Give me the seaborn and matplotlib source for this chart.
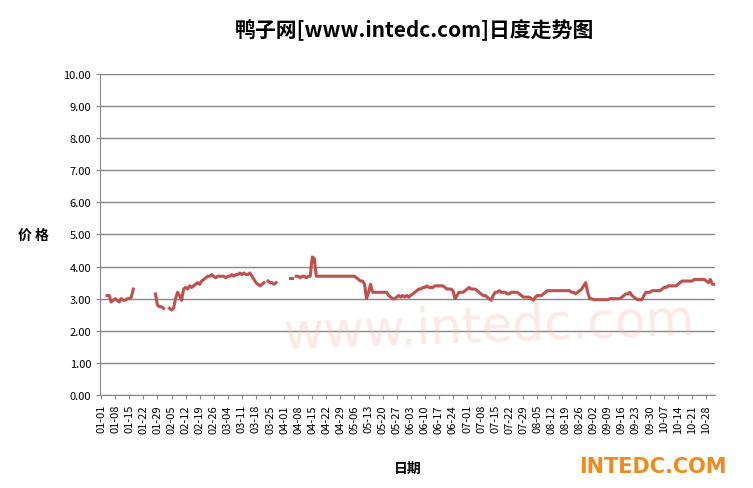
import numpy as np
import pandas as pd
import matplotlib
matplotlib.use("Agg")
import matplotlib.pyplot as plt
import seaborn as sns

N = None
prices = [
    N, N, N, 3.10, 3.10, 2.90, 2.95, 3.00, 2.95, 2.90,
    3.00, 2.95, 2.95, 3.00, 3.00, 3.05, 3.30, N, N, N,
    N, N, N, N, N, N, N, 3.15, 2.80, 2.75,
    2.75, 2.70, N, N, 2.70, 2.65, 2.70, 3.00, 3.20, 3.10,
    2.95, 3.30, 3.35, 3.30, 3.40, 3.35, 3.40, 3.45, 3.50, 3.45,
    3.55, 3.60, 3.65, 3.70, 3.70, 3.75, 3.70, 3.65, 3.70, 3.70,
    3.70, 3.70, 3.65, 3.70, 3.70, 3.75, 3.70, 3.75, 3.75, 3.80,
    3.75, 3.80, 3.75, 3.75, 3.80, 3.70, 3.60, 3.50, 3.45, 3.40,
    3.45, 3.50, N, 3.55, 3.50, 3.50, 3.45, 3.50, N, N,
    N, N, N, N, 3.65, 3.65, N, 3.70, 3.70, 3.65,
    3.70, 3.70, 3.65, 3.70, 3.70, 4.30, 4.25, 3.70, 3.70, 3.70,
    3.70, 3.70, 3.70, 3.70, 3.70, 3.70, 3.70, 3.70, 3.70, 3.70,
    3.70, 3.70, 3.70, 3.70, 3.70, 3.70, 3.70, 3.65, 3.60, 3.55,
    3.55, 3.45, 3.00, 3.20, 3.45, 3.20, 3.20, 3.20, 3.20, 3.20,
    3.20, 3.20, 3.20, 3.10, 3.05, 3.00, 3.00, 3.05, 3.10, 3.05,
    3.10, 3.05, 3.10, 3.05, 3.10, 3.15, 3.20, 3.25, 3.30, 3.30,
    3.35, 3.35, 3.40, 3.35, 3.35, 3.35, 3.40, 3.40, 3.40, 3.40,
    3.40, 3.35, 3.30, 3.30, 3.30, 3.25, 3.00, 3.10, 3.20, 3.20,
    3.20, 3.25, 3.30, 3.35, 3.30, 3.30, 3.30, 3.25, 3.20, 3.15,
    3.10, 3.10, 3.05, 3.00, 2.95, 3.10, 3.20, 3.20, 3.25, 3.20,
    3.20, 3.20, 3.15, 3.15, 3.20, 3.20, 3.20, 3.20, 3.15, 3.10,
    3.05, 3.05, 3.05, 3.05, 3.00, 2.95, 3.05, 3.10, 3.10, 3.10,
    3.15, 3.20, 3.25, 3.25, 3.25, 3.25, 3.25, 3.25, 3.25, 3.25,
    3.25, 3.25, 3.25, 3.25, 3.20, 3.20, 3.15, 3.20, 3.25, 3.30,
    3.40, 3.50, 3.20, 3.00, 3.00, 2.97, 2.97, 2.97, 2.97, 2.97,
    2.97, 2.97, 2.97, 3.00, 3.00, 3.00, 3.00, 3.00, 3.00, 3.05,
    3.10, 3.15, 3.15, 3.20, 3.10, 3.05, 3.00, 2.97, 2.97, 2.97,
    3.10, 3.20, 3.20, 3.20, 3.25, 3.25, 3.25, 3.25, 3.25, 3.30,
    3.35, 3.35, 3.40, 3.40, 3.40, 3.40, 3.40, 3.45, 3.50, 3.55,
    3.55, 3.55, 3.55, 3.55, 3.55, 3.60, 3.60, 3.60, 3.60, 3.60,
    3.60, 3.55, 3.50, 3.60, 3.45, 3.45,
]
dates = pd.date_range("2012-01-01", periods=len(prices), freq="D")
tick_labels = [d.strftime("%m-%d") for d in dates[::7]]
y_ticks = [i * 1.0 for i in range(11)]

plt.rcParams["font.family"] = ["Noto Sans CJK SC", "DejaVu Sans"]
df = pd.DataFrame({"day": np.arange(len(prices)), "price": pd.array(prices, dtype="float")})
isnan = df["price"].isna()
df["seg"] = isnan.cumsum()
df = df[~isnan]

fig = plt.figure(figsize=(7.53, 4.89), dpi=100)
ax = fig.add_axes([0.133, 0.19, 0.817, 0.657])

# watermarks
fig.text(0.65, 0.33, "www.intedc.com", fontsize=36, color="#F5B8A8", alpha=0.3,
         ha="center", va="center", rotation=2, zorder=0, family="DejaVu Sans")
fig.text(0.965, 0.045, "INTEDC.COM", fontsize=15, color="#F08A1C",
         ha="right", va="center", fontweight="bold", family="DejaVu Sans")

sns.lineplot(data=df, x="day", y="price", units="seg", estimator=None,
             color="#C0504D", linewidth=2.2, ax=ax, legend=False)

ax.set_xlim(-0.5, len(prices) - 0.5)
ax.set_ylim(0, 10)
ax.set_yticks(y_ticks)
ax.set_yticklabels([f"{v:.2f}" for v in y_ticks], fontsize=8)
ax.set_xticks(np.arange(0, len(prices), 7))
ax.set_xticklabels(tick_labels, rotation=90, fontsize=8)
ax.yaxis.grid(True, color="#888888", linewidth=1)
ax.set_axisbelow(True)
for s in ["top", "right"]:
    ax.spines[s].set_visible(False)
for s in ["left", "bottom"]:
    ax.spines[s].set_color("#888888")
ax.tick_params(axis="both", length=3, color="#888888")
ax.set_xlabel("日期", fontsize=10, fontweight="bold", labelpad=20)
ax.set_ylabel("价 格", fontsize=10, fontweight="bold", rotation=0, labelpad=22, va="center")
fig.suptitle("鸭子网[www.intedc.com]日度走势图", fontsize=15, fontweight="bold", y=0.96, x=0.55)
fig.savefig("out.png", dpi=100)
